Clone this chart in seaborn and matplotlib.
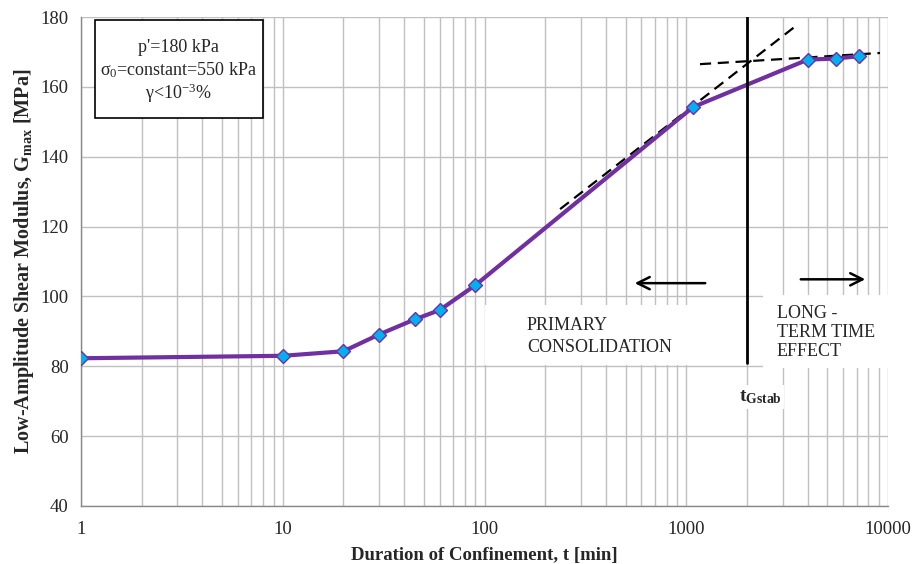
import matplotlib
matplotlib.use("Agg")
import matplotlib.pyplot as plt
import seaborn as sns
import pandas as pd
import numpy as np
from matplotlib.ticker import FixedLocator, FixedFormatter, LogLocator, NullFormatter
from matplotlib.patches import Rectangle

# ---- data ----
duration_min = [1, 10, 20, 30, 45, 60, 90, 1080, 4000, 5500, 7200]
gmax_mpa = [82.3, 83.0, 84.3, 89.1, 93.4, 96.1, 103.2, 154.2, 167.8, 168.1, 168.8]

tangent1_t = [237, 3540]
tangent1_g = [125.0, 177.7]
tangent2_t = [1170, 9120]
tangent2_g = [166.5, 169.7]

t_gstab = 2000
x_ticks = [1, 10, 100, 1000, 10000]
x_ticklabels = ["1", "10", "100", "1000", "10000"]
y_ticks = [40, 60, 80, 100, 120, 140, 160, 180]

sns.set_style("white")
plt.rcParams["font.family"] = ["Liberation Serif", "DejaVu Serif"]
plt.rcParams["mathtext.fontset"] = "custom"
plt.rcParams["mathtext.rm"] = "Liberation Serif"
plt.rcParams["mathtext.it"] = "Liberation Serif:italic"
plt.rcParams["mathtext.bf"] = "Liberation Serif:bold"

fig = plt.figure(figsize=(9.13, 5.64), dpi=100)
ax = fig.add_axes([81 / 913, 1 - 506 / 564, 807 / 913, 489 / 564])

df = pd.DataFrame({"t": duration_min, "G": gmax_mpa})


def px2t(px):
    return 10 ** ((px - 81) / 201.75)


grid_c = "#c0c0c0"
ax.set_xscale("log")
ax.set_xlim(1, 10000)
ax.set_ylim(40, 180)

# grid
ax.xaxis.set_major_locator(FixedLocator(x_ticks))
ax.xaxis.set_major_formatter(FixedFormatter(x_ticklabels))
ax.xaxis.set_minor_locator(LogLocator(base=10, subs=np.arange(2, 10)))
ax.xaxis.set_minor_formatter(NullFormatter())
ax.set_yticks(y_ticks)
ax.grid(True, which="both", axis="x", color=grid_c, lw=1.0, zorder=0)
ax.grid(True, which="major", axis="y", color=grid_c, lw=1.0, zorder=0)
ax.set_axisbelow(True)

for s in ["top", "right"]:
    ax.spines[s].set_visible(False)
for s in ["left", "bottom"]:
    ax.spines[s].set_color("#888888")
    ax.spines[s].set_linewidth(1.0)
ax.tick_params(axis="both", which="major", direction="out", length=4, color="#888888",
               labelsize=13.5)
ax.tick_params(axis="x", which="major", pad=7)
ax.tick_params(axis="y", which="major", pad=5)
ax.tick_params(axis="x", which="minor", length=0)

# white boxes hiding grid
ax.add_patch(Rectangle((px2t(485), 80.3), px2t(745) - px2t(485), 97.5 - 80.3,
                       facecolor="white", edgecolor="none", zorder=1))
ax.add_patch(Rectangle((px2t(763), 79.5), px2t(890) - px2t(763), 100.3 - 79.5,
                       facecolor="white", edgecolor="none", zorder=1, clip_on=False))

# main curve
sns.lineplot(data=df, x="t", y="G", ax=ax, color="#7030A0", lw=3, marker="D",
             markersize=7.5, markerfacecolor="#00B0F0", markeredgecolor="#7030A0",
             markeredgewidth=1.0, zorder=5)

# tangent lines
ax.plot(tangent1_t, tangent1_g, color="black", ls=(0, (5, 3)), lw=1.6, zorder=4)
ax.plot(tangent2_t, tangent2_g, color="black", ls=(0, (5, 3)), lw=1.6, zorder=4)

# vertical line t_Gstab
ax.plot([t_gstab, t_gstab], [81, 180], color="black", lw=2, zorder=6)

# arrows
ax.annotate("", xy=(538, 103.8), xytext=(1282, 103.8),
            arrowprops=dict(arrowstyle="->", color="black", lw=1.8, mutation_scale=22), zorder=6)
ax.annotate("", xy=(7960, 104.9), xytext=(3580, 104.9),
            arrowprops=dict(arrowstyle="->", color="black", lw=1.8, mutation_scale=22), zorder=6)

# texts
ax.text(px2t(527), 88.6, "PRIMARY\nCONSOLIDATION", fontsize=13,
        ha="left", va="center", linespacing=1.35, zorder=7)
ax.text(px2t(777), 89.8, "LONG -\nTERM TIME\nEFFECT", fontsize=13,
        ha="left", va="center", linespacing=1.15, zorder=7)
ax.text(px2t(760), 71.2, r"t$_{\mathbf{Gstab}}$", fontsize=14, fontweight="bold",
        ha="center", va="center", zorder=7,
        bbox=dict(facecolor="white", edgecolor="none", pad=2))

# top-left info box
ax.add_patch(Rectangle((0.0173, 0.7935), 0.2082, 0.2004, transform=ax.transAxes,
                       facecolor="white", edgecolor="black", lw=1.2, zorder=7))
cx = 0.121
ax.text(cx, (506 - 47) / 489, "p'=180 kPa", transform=ax.transAxes, fontsize=13,
        ha="center", va="center", zorder=8)
ax.text(cx, (506 - 70) / 489, r"$\mathrm{\sigma_0}$=constant=550 kPa", transform=ax.transAxes,
        fontsize=13, ha="center", va="center", zorder=8)
ax.text(cx, (506 - 93) / 489, r"$\mathrm{\gamma}$<10$^{\mathrm{-3}}$%", transform=ax.transAxes,
        fontsize=13, ha="center", va="center", zorder=8)

ax.set_xlabel("Duration of Confinement, t [min]", fontsize=13.5, fontweight="bold", labelpad=6)
ax.set_ylabel(r"Low-Amplitude Shear Modulus, G$_{\mathbf{max}}$ [MPa]", fontsize=14.5,
              fontweight="bold", labelpad=3)

fig.savefig("out.png", dpi=100)
